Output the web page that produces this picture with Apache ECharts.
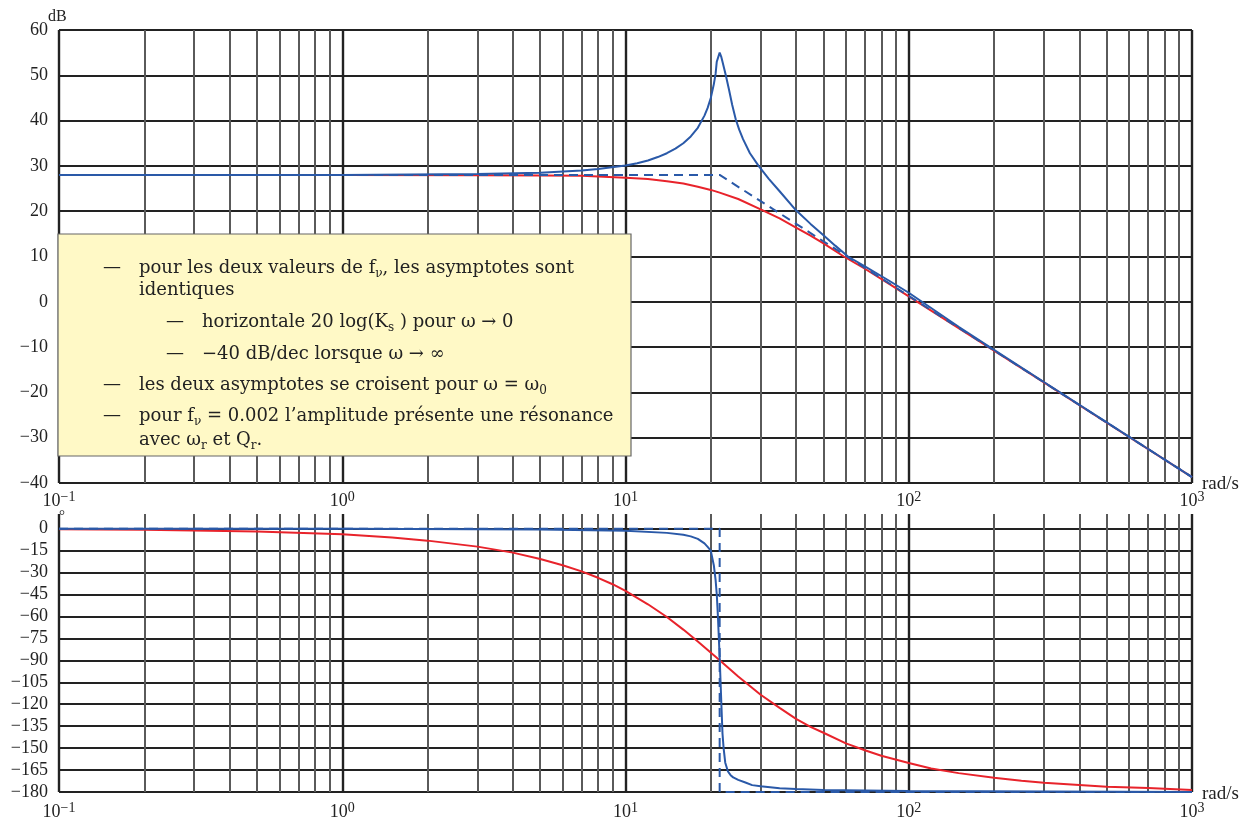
<!DOCTYPE html>
<html>
<head>
<meta charset="utf-8">
<script src="https://cdn.jsdelivr.net/npm/echarts/dist/echarts.min.js"></script>
<style>
html, body { margin: 0; padding: 0; background: #fff; }
#chart { width: 1246px; height: 820px; }
</style>
</head>
<body>
<div id="chart"></div>
<script>
// axis decades and the minor grid multipliers
const decades = [0.1, 1, 10, 100, 1000];
const minorSteps = [2, 3, 4, 5, 6, 7, 8, 9];

// gain (dB)
const magW = [0.1, 1, 3, 5, 7, 8, 10, 11, 12, 13, 14, 15, 16, 17, 18, 19, 19.5, 20, 20.5, 20.8, 21, 21.5, 21.8, 22, 22.3, 22.6, 23.2, 23.8, 24.5, 25.2, 26, 27.5, 29.5, 32, 35, 40, 45, 50, 55, 61, 70, 85, 100, 150, 200, 300, 500, 700, 1000];
const magBlue = [28.0, 28.0, 28.2, 28.5, 29.0, 29.3, 30.1, 30.6, 31.2, 31.95, 32.8, 33.8, 35.0, 36.5, 38.4, 41.1, 42.8, 45.0, 48.0, 50.3, 53.0, 55.0, 54.0, 53.0, 51.5, 50.0, 46.8, 43.5, 40.3, 38.0, 35.9, 32.8, 30.0, 27.2, 24.4, 20.2, 17.2, 14.7, 12.4, 10.0, 7.8, 4.7, 2.0, -5.5, -10.6, -17.7, -26.6, -32.5, -38.7];
const magRedW = [0.1, 1, 3, 5, 7, 10, 12, 14, 16, 18, 20, 21.5, 25, 30, 35, 40, 45, 50, 59, 70, 85, 100, 150, 200, 300, 500, 1000];
const magRed = [28.0, 28.0, 27.96, 27.9, 27.8, 27.4, 27.1, 26.6, 26.1, 25.4, 24.7, 24.1, 22.7, 20.4, 18.4, 16.4, 14.6, 12.9, 10.0, 7.3, 4.0, 1.2, -5.8, -10.8, -17.8, -26.7, -38.7];
const asymMagW = [0.1, 21.5, 1000];
const asymMag = [28, 28, -38.7];

// phase (degrees)
const phaseW = [0.1, 1, 5, 10, 14, 16, 17, 18, 19, 19.5, 20, 20.5, 20.8, 21, 21.2, 21.5, 21.8, 22, 22.2, 22.5, 23, 23.5, 24, 25, 26.5, 28, 30, 35, 40, 50, 100, 1000];
const phaseBlue = [0, -0.1, -0.6, -1.5, -2.9, -4.2, -5.3, -7.0, -10.1, -12.5, -15.0, -25.0, -35.0, -45.0, -60.0, -88.0, -120.0, -140.0, -150.0, -160.0, -166.0, -168.5, -170.0, -171.7, -173.5, -175.3, -176.0, -177.5, -178.0, -178.7, -179.4, -180.0];
const phaseRedW = [0.1, 0.2, 0.5, 1, 1.5, 2, 3, 4, 5, 6, 7, 8, 9, 10, 12, 14, 16, 18, 21.5, 25, 30, 35, 40, 45, 50, 60, 70, 80, 100, 120, 150, 200, 250, 300, 500, 700, 1000];
const phaseRed = [-0.4, -0.8, -1.9, -3.8, -6.0, -8.2, -12.3, -16.4, -20.8, -25.0, -29.2, -33.6, -38.0, -42.6, -51.7, -60.4, -69.0, -77.1, -90.0, -101.0, -113.5, -122.5, -130.0, -135.5, -139.5, -146.8, -151.5, -155.2, -160.2, -163.9, -167.1, -170.3, -172.3, -173.6, -176.4, -177.3, -178.7];
const asymPhaseW = [0.1, 21.5, 21.5, 1000];
const asymPhase = [0, 0, -180, -180];

const BLUE = "#2A59A8";
const RED = "#E8232B";
const SERIF = "Liberation Serif";
const BOXFONT = "DejaVu Serif";

const pairs = (xs, ys) => xs.map((x, i) => [x, ys[i]]);

// vertical grid lines of a log decade paper
const gridLines = [];
decades.forEach(d => {
    gridLines.push({ xAxis: d, lineStyle: { color: "#222", width: 2.4, type: "solid" } });
    if (d < 1000) {
        minorSteps.forEach(m => {
            gridLines.push({ xAxis: d * m, lineStyle: { color: "#5a5a5a", width: 2, type: "solid" } });
        });
    }
});

const xLabel = value => {
    const e = Math.round(Math.log10(value));
    return "{b|10}{s|" + (e < 0 ? "−" + (-e) : e) + "}";
};
const xLabelRich = {
    b: { fontFamily: SERIF, fontSize: 18, color: "#222", lineHeight: 22 },
    s: { fontFamily: SERIF, fontSize: 14, color: "#222", verticalAlign: "top" }
};
const yLabel = value => (value < 0 ? "−" + (-value) : "" + value);

function xAxisFor(gridIndex, margin) {
    return {
        type: "log", gridIndex: gridIndex, logBase: 10, min: 0.1, max: 1000,
        axisLine: { show: false, onZero: false },
        axisTick: { show: false },
        splitLine: { show: false },
        axisLabel: { formatter: xLabel, rich: xLabelRich, margin: margin }
    };
}

function gridSeries(xi, yi) {
    return {
        type: "line", xAxisIndex: xi, yAxisIndex: yi, data: [], z: 1, silent: true,
        markLine: { silent: true, symbol: ["none", "none"], label: { show: false }, animation: false, data: gridLines }
    };
}

function curve(xi, yi, data, color, dashed) {
    return {
        type: "line", xAxisIndex: xi, yAxisIndex: yi, data: data, z: 5,
        showSymbol: false, smooth: false,
        lineStyle: { color: color, width: 2, type: dashed ? [9, 6] : "solid" }
    };
}

const label = (x, y, text, size) => ({
    type: "text", x: x, y: y, z: 100,
    style: { text: text, fontFamily: SERIF, fontSize: size, fill: "#222", verticalAlign: "middle", align: "left" }
});

const boxText = (x, y, text) => ({
    type: "text", x: x, y: y, z: 101,
    style: {
        text: text, verticalAlign: "middle", align: "left",
        fontFamily: BOXFONT, fontSize: 18, fill: "#222",
        rich: {
            t: { fontFamily: BOXFONT, fontSize: 18, color: "#222", lineHeight: 24 },
            s: { fontFamily: BOXFONT, fontSize: 12, color: "#222", verticalAlign: "bottom" }
        }
    }
});

const chart = echarts.init(document.getElementById("chart"));

chart.setOption({
    animation: false,
    backgroundColor: "#fff",
    grid: [
        { left: 59, right: 54, top: 30, bottom: 337, outerBoundsMode: "none" },
        { left: 59, right: 54, top: 514, bottom: 28, outerBoundsMode: "none" }
    ],
    xAxis: [xAxisFor(0, 7), xAxisFor(1, 9)],
    yAxis: [
        {
            type: "value", gridIndex: 0, min: -40, max: 60, interval: 10,
            axisLine: { show: false }, axisTick: { show: false },
            splitLine: { show: true, lineStyle: { color: "#222", width: 2 } },
            axisLabel: { formatter: yLabel, margin: 11, fontFamily: SERIF, fontSize: 18, color: "#222" }
        },
        {
            type: "value", gridIndex: 1, min: -180, max: 10, interval: 15,
            axisLine: { show: false }, axisTick: { show: false },
            splitLine: { show: true, showMaxLine: false, lineStyle: { color: "#222", width: 2 } },
            axisLabel: { formatter: yLabel, margin: 11, fontFamily: SERIF, fontSize: 18, color: "#222", showMaxLabel: false }
        }
    ],
    series: [
        gridSeries(0, 0),
        gridSeries(1, 1),
        curve(0, 0, pairs(magRedW, magRed), RED, false),
        curve(0, 0, pairs(magW, magBlue), BLUE, false),
        curve(0, 0, pairs(asymMagW, asymMag), BLUE, true),
        curve(1, 1, pairs(phaseRedW, phaseRed), RED, false),
        curve(1, 1, pairs(phaseW, phaseBlue), BLUE, false),
        curve(1, 1, pairs(asymPhaseW, asymPhase), BLUE, true)
    ],
    graphic: [
        label(48, 17, "dB", 16),
        label(59, 516, "°", 15),
        label(1202, 484, "rad/s", 19),
        label(1202, 794, "rad/s", 19),
        { type: "rect", z: 100, shape: { x: 58, y: 234, width: 573, height: 222 },
          style: { fill: "#FFF9C6", stroke: "#666", lineWidth: 1.2 } },
        boxText(103, 268, "{t|—}"),
        boxText(139, 268, "{t|pour les deux valeurs de f}{s|ν}{t|, les asymptotes sont}"),
        boxText(139, 290, "{t|identiques}"),
        boxText(166, 322, "{t|—}"),
        boxText(202, 322, "{t|horizontale 20 log(K}{s|s}{t| ) pour ω → 0}"),
        boxText(166, 354, "{t|—}"),
        boxText(202, 354, "{t|−40 dB/dec lorsque ω → ∞}"),
        boxText(103, 385, "{t|—}"),
        boxText(139, 385, "{t|les deux asymptotes se croisent pour ω = ω}{s|0}"),
        boxText(103, 416, "{t|—}"),
        boxText(139, 416, "{t|pour f}{s|ν}{t| = 0.002 l’amplitude présente une résonance}"),
        boxText(139, 440, "{t|avec ω}{s|r}{t| et Q}{s|r}{t|.}")
    ]
});
</script>
</body>
</html>
